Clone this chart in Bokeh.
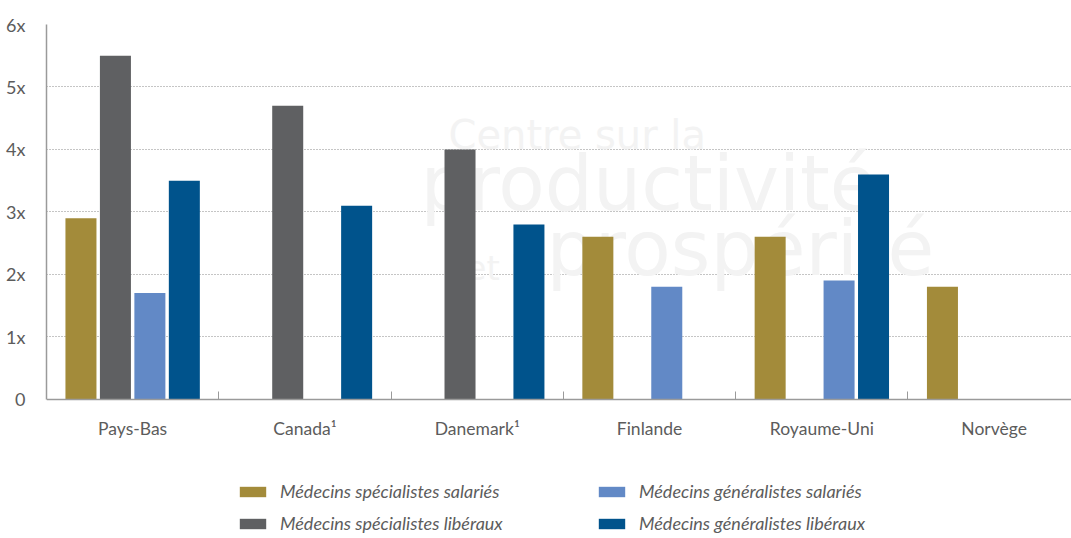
from bokeh.plotting import figure
from bokeh.models import (Range1d, FixedTicker, Legend, LegendItem, Label)
from bokeh.embed import file_html
from bokeh.resources import INLINE

# ---- data ----
countries = ["Pays-Bas", "Canada¹", "Danemark¹", "Finlande", "Royaume-Uni", "Norvège"]
series_names = [
    "Médecins spécialistes salariés",
    "Médecins spécialistes libéraux",
    "Médecins généralistes salariés",
    "Médecins généralistes libéraux",
]
spec_salaries = [2.9, None, None, 2.6, 2.6, 1.8]
spec_liberaux = [5.5, 4.7, 4.0, None, None, None]
gen_salaries = [1.7, None, None, 1.8, 1.9, None]
gen_liberaux = [3.5, 3.1, 2.8, None, 3.6, None]
y_ticks = [0, 1, 2, 3, 4, 5, 6]
y_tick_labels = ["0", "1x", "2x", "3x", "4x", "5x", "6x"]

colors = ["#A38B3A", "#5F6062", "#6289C6", "#00538C"]
series = [spec_salaries, spec_liberaux, gen_salaries, gen_liberaux]
offsets = [-0.3, -0.1, 0.1, 0.3]

FONT = "Lato"
TXT = "#5c5c5c"

p = figure(width=1071, height=538, output_backend="svg", toolbar_location=None,
           x_range=Range1d(0, 5.949), y_range=Range1d(-2.229, 6),
           min_border_left=46, min_border_top=24, min_border_bottom=0,
           min_border_right=0)
p.outline_line_color = None
p.background_fill_color = "white"

# watermark (faint)
wm_color = "#f3f3f3"
for txt, x, y, size in [("Centre sur la", 402, 381, "40px"),
                        ("productivité", 374, 311, "76px"),
                        ("et la", 419, 251, "34px"),
                        ("prospérité", 500, 246, "76px")]:
    p.add_layout(Label(x=x, y=y, x_units="screen", y_units="screen", text=txt,
                       text_font="DejaVu Sans", text_font_size=size,
                       text_color=wm_color, level="underlay"))

renderers = []
for vals, off, col in zip(series, offsets, colors):
    xs = [i + 0.5 + off for i, v in enumerate(vals) if v is not None]
    tops = [v for v in vals if v is not None]
    r = p.vbar(x=xs, top=tops, width=0.18, bottom=0, fill_color=col, line_color=None)
    renderers.append(r)

# axes
xa = p.xaxis[0]
xa.fixed_location = 0
xa.ticker = FixedTicker(ticks=[i + 0.5 for i in range(len(countries))],
                        minor_ticks=[1, 2, 3, 4, 5])
xa.major_label_overrides = {i + 0.5: c for i, c in enumerate(countries)}
xa.major_tick_line_color = None
xa.minor_tick_in = 8
xa.minor_tick_out = 0
xa.minor_tick_line_color = "#9a9a9a"
xa.axis_line_color = "#9a9a9a"
xa.axis_line_width = 1.5
xa.major_label_text_font = FONT
xa.major_label_text_font_size = "17.5px"
xa.major_label_text_color = TXT
xa.major_label_standoff = 13

ya = p.yaxis[0]
ya.bounds = (0, 6)
ya.ticker = FixedTicker(ticks=y_ticks)
ya.major_label_overrides = {t: l for t, l in zip(y_ticks, y_tick_labels)}
ya.major_tick_line_color = None
ya.minor_tick_line_color = None
ya.axis_line_color = "#9a9a9a"
ya.axis_line_width = 1.5
ya.major_label_text_font = FONT
ya.major_label_text_font_size = "18px"
ya.major_label_text_color = TXT
ya.major_label_standoff = 15

p.xgrid.grid_line_color = None
p.ygrid.ticker = FixedTicker(ticks=[1, 2, 3, 4, 5])
p.ygrid.grid_line_color = "#8a8a8a"
p.ygrid.grid_line_dash = "1 2"
p.ygrid.grid_line_width = 1

# legends (two columns)
def make_legend(items, x):
    return Legend(items=items, location=(x, 4), orientation="vertical",
                  glyph_width=33, glyph_height=13, label_standoff=11,
                  label_height=21, spacing=10, padding=0, margin=0,
                  border_line_color=None, background_fill_alpha=0,
                  label_text_font=FONT, label_text_font_size="18px",
                  label_text_font_style="italic", label_text_color=TXT)

leg1 = make_legend([LegendItem(label=series_names[0], renderers=[renderers[0]]),
                    LegendItem(label=series_names[1], renderers=[renderers[1]])], 190)
leg2 = make_legend([LegendItem(label=series_names[2], renderers=[renderers[2]]),
                    LegendItem(label=series_names[3], renderers=[renderers[3]])], 549)
p.add_layout(leg1, "center")
p.add_layout(leg2, "center")

open("out.html", "w").write(file_html(p, INLINE))
